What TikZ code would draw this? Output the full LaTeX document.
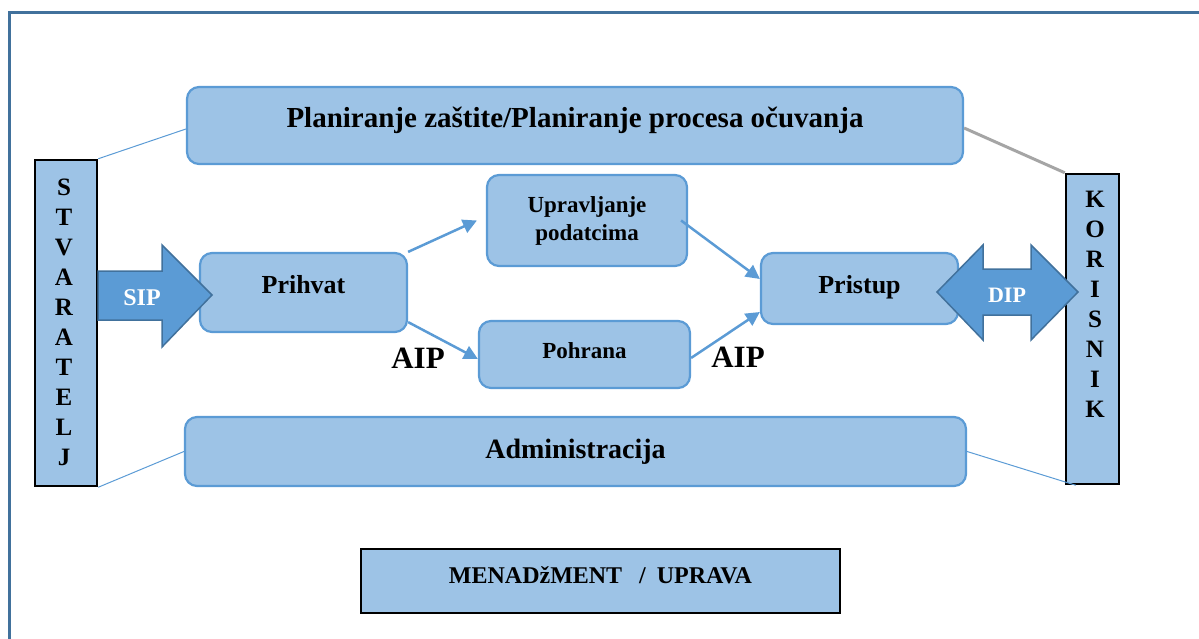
\documentclass[tikz,border=0pt]{standalone}
\usepackage{fontspec}
\setmainfont{Liberation Serif}
\usetikzlibrary{arrows.meta}
\definecolor{lightblue}{HTML}{9DC3E6}
\definecolor{bordblue}{HTML}{5B9BD5}
\definecolor{darkblue}{HTML}{41719C}
\definecolor{greyline}{HTML}{A5A5A5}
\newcommand{\fs}[1]{\fontsize{#1}{#1}\selectfont\bfseries}
\tikzset{
  rbox/.style={draw=bordblue, fill=lightblue, line width=2.2pt, rounded corners=12pt, inner sep=0pt, align=center},
  sbox/.style={draw=black, fill=lightblue, line width=2.5pt, inner sep=0pt},
  flow/.style={draw=bordblue, line width=2.5pt, -{Triangle[length=14pt,width=14pt]}},
  thinline/.style={draw=bordblue, line width=1pt},
  blockarrow/.style={fill=bordblue, draw=darkblue, line width=1.5pt, line join=miter},
  vert/.style={align=center, inner sep=0pt, font=\fontsize{25}{30}\selectfont\bfseries},
}
\begin{document}
\begin{tikzpicture}[x=1pt,y=-1pt]
\useasboundingbox (0,0) rectangle (1199,639);
% frame
\draw[darkblue, line width=2.6pt] (9.5,645) -- (9.5,12.5) -- (1205,12.5);

% boxes
\node[rbox, minimum width=776pt, minimum height=77pt, font=\fs{29}, text height=19pt, text depth=14pt] (plan) at (575,125.5) {Planiranje zaštite/Planiranje procesa očuvanja};
\node[rbox, minimum width=781pt, minimum height=69pt, font=\fs{28}, text height=18pt, text depth=5pt] (admin) at (575.5,451.5) {Administracija};
\node[rbox, minimum width=207pt, minimum height=79pt, font=\fs{26}, text height=18pt, text depth=17pt] (prihvat) at (303.5,292.5) {Prihvat};
\node[rbox, minimum width=200pt, minimum height=91pt, font=\fontsize{23}{28}\selectfont\bfseries] (upr) at (587,220.5) {Upravljanje\\podatcima};
\node[rbox, minimum width=211pt, minimum height=67pt, font=\fs{23}, text height=16pt, text depth=9pt] (poh) at (584.5,354.5) {Pohrana};
\node[rbox, minimum width=197pt, minimum height=71pt, font=\fs{26}, text height=18pt, text depth=9pt] (pristup) at (859.5,288.5) {Pristup};

\node[sbox, minimum width=62pt, minimum height=326pt] (stv) at (66,323) {};
\node[vert] (stvtext) at (64,322) {S\\T\\V\\A\\R\\A\\T\\E\\L\\J};
\node[sbox, minimum width=53pt, minimum height=310pt] (kor) at (1092.5,329) {};
\node[vert] (kortext) at (1095,304) {K\\O\\R\\I\\S\\N\\I\\K};

\node[sbox, minimum width=479pt, minimum height=64pt, font=\fs{24}, text height=16pt, text depth=12pt] (menad) at (600.5,581) {MENAD\v{z}MENT\hspace{17pt}/\hspace{11pt}UPRAVA};

% thin connectors
\draw[thinline] ([yshift=-3.5pt]plan.west) -- (stv.north east);
\draw[greyline, line width=3pt] ([yshift=-2.5pt]plan.east) -- (kor.north west);
\draw[thinline] (admin.west) -- (stv.south east);
\draw[thinline] (admin.east) -- ([xshift=11pt]kor.south west);

% flow arrows
\draw[flow] (prihvat.north east) -- ([xshift=-9pt]upr.west);
\draw[flow] ([yshift=11pt]prihvat.south east) -- ([yshift=-4.5pt]poh.west);
\draw[flow] ([xshift=-7pt]upr.east) -- ([yshift=9.5pt]pristup.west);
\draw[flow] ([yshift=-3.5pt]poh.east) -- ([yshift=-23.5pt]pristup.west);

\node[font=\fs{31}, inner sep=0pt] (aip1) at (418,358) {AIP};
\node[font=\fs{31}, inner sep=0pt] (aip2) at (738,357) {AIP};

% SIP block arrow
\draw[blockarrow] (98,271) -- (162,271) -- (162,245) -- (212,295) -- (162,347) -- (162,320) -- (98,320) -- cycle;
\node[font=\fs{24}, text=white, inner sep=0pt] (sip) at (142,298) {SIP};

% DIP double block arrow
\draw[blockarrow] (937,292) -- (983,245) -- (983,269) -- (1031,269) -- (1031,245) -- (1078,292) -- (1031,340) -- (1031,315) -- (983,315) -- (983,340) -- cycle;
\node[font=\fs{22}, text=white, inner sep=0pt] (dip) at (1007,295) {DIP};
\end{tikzpicture}
\end{document}
